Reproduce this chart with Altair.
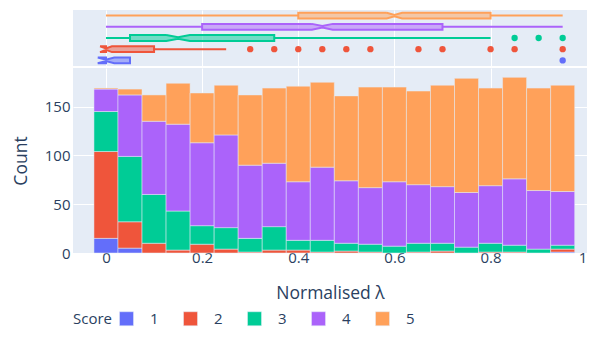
import altair as alt
import numpy as np
import pandas as pd

# ---------------- data ----------------
bin_centers = [0.0, 0.05, 0.1, 0.15, 0.2, 0.25, 0.3, 0.35, 0.4, 0.45,
               0.5, 0.55, 0.6, 0.65, 0.7, 0.75, 0.8, 0.85, 0.9, 0.95]
bin_width = 0.05
score_labels = ["1", "2", "3", "4", "5"]
counts_1 = [15, 5, 0, 0, 0, 0, 0, 0, 0, 0, 0, 0, 0, 0, 0, 0, 0, 0, 0, 1]
counts_2 = [89, 27, 10, 3, 9, 4, 1, 3, 3, 1, 2, 1, 0, 1, 2, 0, 1, 1, 0, 3]
counts_3 = [41, 67, 50, 40, 19, 22, 14, 24, 10, 12, 8, 8, 7, 9, 8, 6, 9, 7, 4, 4]
counts_4 = [23, 63, 75, 89, 85, 95, 75, 65, 60, 75, 64, 58, 66, 60, 58, 56, 59, 68, 60, 55]
counts_5 = [1, 6, 27, 42, 51, 51, 72, 77, 98, 87, 87, 103, 97, 96, 104, 117, 100, 104, 105, 109]
all_counts = [counts_1, counts_2, counts_3, counts_4, counts_5]
colors = ["#636efa", "#EF553B", "#00cc96", "#ab63fa", "#FFA15A"]
x_ticks = [0, 0.2, 0.4, 0.6, 0.8, 1]
y_ticks = [0, 50, 100, 150]

# ---------------- style ----------------
FONT = "Open Sans"
TEXT = "#2a3f5f"
BG = "#E5ECF6"
W = 514
x_domain = [-0.0686, 1.0006]
y_domain = [0, 189.6]

# ---------------- histogram table (stacked in score order) ----------------
rows = []
for j, c in enumerate(bin_centers):
    base = 0
    for s, cnts in zip(score_labels, all_counts):
        n = cnts[j]
        if n > 0:
            rows.append(dict(score=s, x0=c - bin_width / 2, x1=c + bin_width / 2,
                             y0=base, y1=base + n, count=n))
        base += n
hist_df = pd.DataFrame(rows)

xscale_b = alt.Scale(domain=x_domain, nice=False, zero=False)
bars = alt.Chart(hist_df).mark_bar(stroke=BG, strokeWidth=0.5).encode(
    x=alt.X("x0:Q", scale=xscale_b,
            axis=alt.Axis(values=x_ticks, format="~g", title="Normalised λ",
                          grid=True, labelPadding=-3, titlePadding=19)),
    x2="x1:Q",
    y=alt.Y("y0:Q", scale=alt.Scale(domain=y_domain, nice=False),
            axis=alt.Axis(values=y_ticks, format="d", title="Count",
                          labelPadding=3, titlePadding=14)),
    y2="y1:Q",
    color=alt.Color("score:N", scale=alt.Scale(domain=score_labels, range=colors),
                    legend=alt.Legend(title="Score", orient="none", legendX=0, legendY=301,
                                      direction="horizontal", titleOrient="left",
                                      symbolType="square", symbolSize=196,
                                      symbolStrokeWidth=0.5, symbolStrokeColor=BG,
                                      labelFontSize=15, titleFontSize=15,
                                      titleFontWeight="normal", labelOffset=16,
                                      columnPadding=23, titlePadding=7,
                                      labelColor=TEXT, titleColor=TEXT,
                                      labelFont=FONT, titleFont=FONT)),
).properties(width=W, height=185)

# ---------------- marginal notched box plots ----------------
xscale_t = alt.Scale(domain=x_domain, nice=False, zero=False)
yscale_t = alt.Scale(domain=[0.5, 5.5], nice=False, zero=False)
top_axis = alt.Axis(values=x_ticks, labels=False, ticks=False, domain=False,
                    grid=True, title=None)
H = 0.26
layers = []
for i, (s, cnts, col) in enumerate(zip(score_labels, all_counts, colors)):
    vals = np.repeat(np.arange(len(bin_centers)), cnts)
    n = len(vals)
    q1, med, q3 = np.percentile(vals, [25, 50, 75])
    iqr = q3 - q1
    lo_f, hi_f = q1 - 1.5 * iqr, q3 + 1.5 * iqr
    inside = vals[(vals >= lo_f) & (vals <= hi_f)]
    wlo, whi = inside.min(), inside.max()
    outl = np.unique(vals[(vals < lo_f) | (vals > hi_f)])
    lam = lambda v: bin_centers[0] + float(v) * bin_width
    Q1, MED, Q3, WLO, WHI = lam(q1), lam(med), lam(q3), lam(wlo), lam(whi)
    notch = 1.57 * (Q3 - Q1) / np.sqrt(n)
    LN, UN = MED - notch, MED + notch
    y = i + 1
    hi_in = H * 0.25
    pts = [(LN, y + H), (MED, y + hi_in), (UN, y + H), (Q3, y + H), (Q3, y - H),
           (UN, y - H), (MED, y - hi_in), (LN, y - H), (Q1, y - H), (Q1, y + H),
           (LN, y + H)]
    poly = pd.DataFrame([dict(k=k, x=p[0], y=p[1]) for k, p in enumerate(pts)])
    wh = []
    if WLO < Q1:
        wh.append(dict(x=WLO, x2=Q1, y=y))
    if WHI > Q3:
        wh.append(dict(x=Q3, x2=WHI, y=y))
    if wh:
        layers.append(alt.Chart(pd.DataFrame(wh)).mark_rule(color=col, strokeWidth=2).encode(
            x=alt.X("x:Q", scale=xscale_t, axis=top_axis), x2="x2:Q",
            y=alt.Y("y:Q", scale=yscale_t, axis=None)))
    layers.append(alt.Chart(poly).mark_line(fill=col, fillOpacity=0.5, stroke=col,
                                            strokeWidth=2).encode(
        x=alt.X("x:Q", scale=xscale_t, axis=top_axis),
        y=alt.Y("y:Q", scale=yscale_t, axis=None),
        order="k:Q"))
    if len(outl):
        odf = pd.DataFrame(dict(x=[lam(v) for v in outl], y=[y] * len(outl)))
        layers.append(alt.Chart(odf).mark_circle(color=col, size=40, opacity=1).encode(
            x=alt.X("x:Q", scale=xscale_t, axis=top_axis),
            y=alt.Y("y:Q", scale=yscale_t, axis=None)))

top = alt.layer(*layers).properties(width=W, height=56)

chart = alt.vconcat(top, bars, spacing=0).properties(
    padding={"left": 4, "top": 0, "right": 0, "bottom": 0},
    background="white",
).configure_view(fill=BG, stroke=None).configure_axis(
    labelFont=FONT, titleFont=FONT, labelFontSize=15, titleFontSize=17.5,
    titleFontWeight="normal", labelColor=TEXT, titleColor=TEXT,
    domain=False, ticks=False, gridColor="white", gridWidth=1,
)

chart.save("out.html", embed_options={"renderer": "svg", "actions": False})
